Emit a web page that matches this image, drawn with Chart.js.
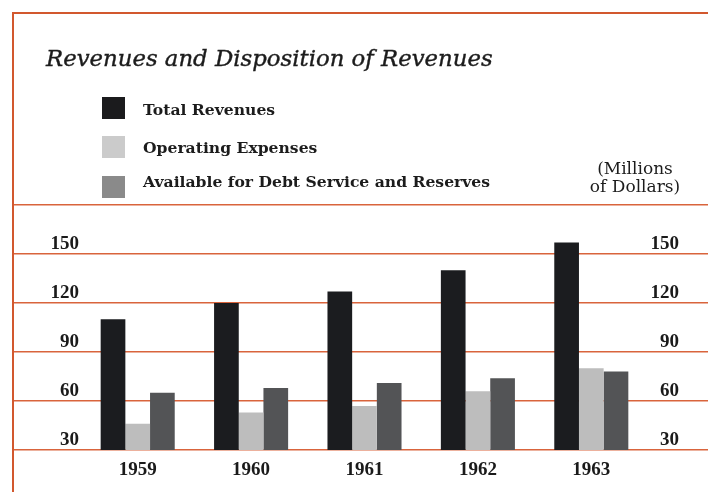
<!DOCTYPE html>
<html>
<head>
<meta charset="utf-8">
<script src="https://cdn.jsdelivr.net/npm/chart.js@4/dist/chart.umd.min.js"></script>
<style>
  html, body { margin: 0; padding: 0; background: #ffffff; }
  #wrap { position: relative; width: 708px; height: 492px; overflow: hidden; background: #ffffff; }
  #c { position: absolute; left: 0; top: 0; }
  .frame-top { position: absolute; left: 12px; top: 12px; width: 696px; height: 2px; background: #d2582e; }
  .frame-left { position: absolute; left: 12px; top: 12px; width: 2px; height: 480px; background: #d2582e; }
  #title { position: absolute; left: 46px; top: 44.5px; font: italic 22.8px "DejaVu Serif"; line-height: 1.164; color: #1c1c1c; white-space: nowrap; -webkit-text-stroke: 0.4px #1c1c1c; }
  .lg-box { position: absolute; width: 23px; height: 22px; }
  .lg-text { position: absolute; left: 143px; font: bold 15.6px "DejaVu Serif"; line-height: 1.164; color: #1c1c1c; white-space: nowrap; }
  #units { position: absolute; left: 575px; width: 120px; top: 159px; font: 17px "DejaVu Serif"; line-height: 18px; color: #1c1c1c; text-align: center; white-space: nowrap; }
</style>
</head>
<body>
<div id="wrap">
  <canvas id="c" width="708" height="492"></canvas>
  <div class="frame-top"></div>
  <div class="frame-left"></div>
  <div id="title">Revenues and Disposition of Revenues</div>
  <div id="legend"></div>
  <div id="units">(Millions<br>of Dollars)</div>
</div>
<script>
// ---- data (millions of dollars) ----
const categories = ['1959', '1960', '1961', '1962', '1963'];
const seriesNames = ['Total Revenues', 'Operating Expenses', 'Available for Debt Service and Reserves'];
const totalRevenues = [110, 120, 127, 140, 157];
const operatingExpenses = [46, 53, 57, 66, 80];
const availableForDebt = [65, 68, 71, 74, 78];
const yTickValues = [30, 60, 90, 120, 150, 180];
const yTickLabels = ['30', '60', '90', '120', '150', ''];

// ---- styles ----
const barColors = ['#1b1c1f', '#bdbdbd', '#535456'];
const swatchColors = ['#1b1b1d', '#cbcbcb', '#8a8a8a'];
const lineColor = '#d9643c';
const tickFont = { family: '"Liberation Serif"', weight: 'bold', size: 19 };

const seriesValues = [totalRevenues, operatingExpenses, availableForDebt];

const yMin = yTickValues[0];
const yMax = yTickValues[yTickValues.length - 1];
const yStep = yTickValues[1] - yTickValues[0];
function yLabel(value) {
  const i = yTickValues.indexOf(value);
  return i >= 0 ? yTickLabels[i] : '';
}

const chart = new Chart(document.getElementById('c'), {
  type: 'bar',
  data: {
    labels: categories,
    datasets: seriesNames.map((name, i) => ({
      label: name,
      data: seriesValues[i],
      backgroundColor: barColors[i],
      borderWidth: 0,
      yAxisID: 'y',
      categoryPercentage: 0.653,
      barPercentage: 1.0
    }))
  },
  options: {
    responsive: false,
    animation: false,
    layout: { padding: { left: 13, right: 29, top: 205, bottom: 0 } },
    plugins: {
      legend: { display: false },
      title: { display: false },
      tooltip: { enabled: false }
    },
    scales: {
      x: {
        type: 'category',
        offset: true,
        grid: { display: false, drawTicks: false },
        border: { display: false },
        ticks: { font: tickFont, color: '#1a1a1a', padding: 9, maxRotation: 0 },
        afterFit: (s) => { s.height = 42; }
      },
      y: {
        type: 'linear',
        position: 'left',
        min: yMin, max: yMax,
        grid: { color: lineColor, lineWidth: 1.6, drawTicks: true, tickLength: 68, drawOnChartArea: true },
        border: { display: false },
        ticks: {
          stepSize: yStep, font: tickFont, color: '#1a1a1a',
          padding: -66, labelOffset: -10, crossAlign: 'near',
          callback: (v) => yLabel(v)
        },
        afterFit: (s) => { s.width = 68; }
      },
      y2: {
        type: 'linear',
        position: 'right',
        min: yMin, max: yMax,
        grid: { color: lineColor, lineWidth: 1.6, drawTicks: true, tickLength: 60, drawOnChartArea: false },
        border: { display: false },
        ticks: {
          stepSize: yStep, font: tickFont, color: '#1a1a1a',
          padding: 0, labelOffset: -10, crossAlign: 'far',
          callback: (v) => yLabel(v)
        },
        afterFit: (s) => { s.width = 31; }
      }
    }
  }
});

// ---- legend built from the chart's datasets ----
const legendTops = [97, 136, 176];
const textTops = [100.5, 138.8, 172.8];
const legendEl = document.getElementById('legend');
chart.data.datasets.forEach((ds, i) => {
  const box = document.createElement('div');
  box.className = 'lg-box';
  box.style.left = '102px';
  box.style.top = legendTops[i] + 'px';
  box.style.background = swatchColors[i];
  legendEl.appendChild(box);
  const t = document.createElement('div');
  t.className = 'lg-text';
  t.style.top = textTops[i] + 'px';
  t.textContent = ds.label;
  legendEl.appendChild(t);
});
</script>
</body>
</html>
